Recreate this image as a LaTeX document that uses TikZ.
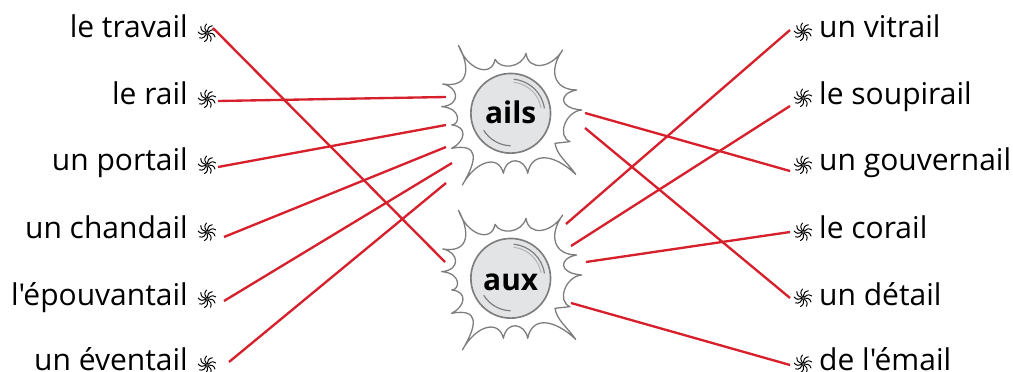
\documentclass[tikz,border=0pt]{standalone}
\usepackage{fontspec}
\newfontfamily\motfont{Open Sans}
\definecolor{lien}{RGB}{214,32,44}
\definecolor{contour}{RGB}{125,125,125}
\definecolor{boule}{RGB}{227,228,230}

\tikzset{
	mot/.style={font=\motfont\fontsize{25.6}{30}\selectfont, inner sep=0pt, text=black},
	motg/.style={mot, anchor=base east},
	motd/.style={mot, anchor=base west},
	puce/.style={circle, inner sep=0pt, minimum size=15},
	spirale/.pic={
		\foreach \a in {0,40,...,320}
			\draw[black, line width=0.85pt, line cap=round, rotate=\a] (1,0) .. controls (4,-0.5) and (7,0.5) .. (8,4);
	},
	boulenode/.style={circle, draw=contour, line width=1.4pt, fill=boule, minimum size=68pt, inner sep=0pt},
	titre/.style={font=\motfont\fontsize{25.5}{30}\selectfont\bfseries, inner sep=0pt},
	fil/.style={lien, line width=2pt},
	soleil/.pic={
		\draw[contour, line width=1.1pt, line join=round, scale=1/3, shift={(-272,-250)}]
			(115,45) .. controls (140,120) and (215,145) .. (225,88)
			.. controls (240,120) and (305,115) .. (318,70)
			.. controls (325,125) and (395,115) .. (428,60)
			.. controls (385,120) and (400,180) .. (470,180)
			.. controls (415,190) and (415,235) .. (485,240)
			.. controls (435,245) and (410,320) .. (450,335)
			-- (405,340)
			.. controls (410,375) and (440,395) .. (467,433)
			.. controls (400,370) and (335,365) .. (323,430)
			.. controls (315,385) and (260,375) .. (250,430)
			.. controls (235,370) and (165,395) .. (127,465)
			.. controls (175,385) and (175,340) .. (95,355)
			.. controls (135,335) and (145,290) .. (95,285)
			.. controls (120,285) and (125,235) .. (65,230)
			.. controls (125,225) and (115,170) .. (68,162)
			.. controls (150,175) and (150,110) .. (115,45);
	},
	reflets/.pic={
		\draw[contour, line width=1pt] (3,-34) arc[start angle=-85, end angle=-8, radius=34];
		\draw[contour!60, line width=0.8pt] (3,-31) arc[start angle=-84, end angle=-10, radius=31];
		\draw[contour, line width=1pt] (-27,17) arc[start angle=148, end angle=92, radius=33];
	},
}
\newcommand{\puceat}[3]{\node[puce] (#1) at (#2,#3) {}; \pic at (#1) {spirale};}

\begin{document}
\begin{tikzpicture}[x=0.03cm, y=-0.03cm]
	\useasboundingbox (0,0) rectangle (1013,372);

	% soleils
	\pic at (510.7,113.3) {soleil};
	\pic at (510.7,278.3) {soleil};
	\node[boulenode] (ails) at (510.7,113.3) {};
	\node[boulenode] (aux) at (510.7,278.3) {};
	\pic at (510.7,113.3) {reflets};
	\pic at (510.7,278.3) {reflets};
	\node[titre, anchor=base] (tails) at (510.7,124) {ails};
	\node[titre, anchor=base] (taux) at (510.7,290) {aux};

	% colonne gauche
	\node[motg] (travail) at (188,38) {le travail};
	\node[motg] (rail) at (188,105) {le rail};
	\node[motg] (portail) at (188,171) {un portail};
	\node[motg] (chandail) at (188,238) {un chandail};
	\node[motg] (epouvantail) at (188,305) {l'épouvantail};
	\node[motg] (eventail) at (188,370) {un éventail};

	\puceat{p1}{207}{33}
	\puceat{p2}{207}{99}
	\puceat{p3}{207}{165}
	\puceat{p4}{207}{232}
	\puceat{p5}{207}{299}
	\puceat{p6}{207}{365}

	% colonne droite
	\node[motd] (vitrail) at (819,38) {un vitrail};
	\node[motd] (soupirail) at (819,105) {le soupirail};
	\node[motd] (gouvernail) at (819,171) {un gouvernail};
	\node[motd] (corail) at (819,238) {le corail};
	\node[motd] (detail) at (819,305) {un détail};
	\node[motd] (email) at (819,370) {de l'émail};

	\puceat{q1}{803}{32}
	\puceat{q2}{803}{98}
	\puceat{q3}{803}{165}
	\puceat{q4}{803}{232}
	\puceat{q5}{803}{298}
	\puceat{q6}{803}{364}

	% liens gauche
	\draw[fil] ([shift={(6,-5)}]p1.center) -- ([shift={(-65.7,-16.3)}]aux.center);
	\draw[fil] ([shift={(11,2)}]p2.center) -- ([shift={(-64.7,-16.3)}]ails.center);
	\draw[fil] ([shift={(11,2)}]p3.center) -- ([shift={(-64.7,11.7)}]ails.center);
	\draw[fil] ([shift={(17,5)}]p4.center) -- ([shift={(-64.7,33.7)}]ails.center);
	\draw[fil] ([shift={(17,2)}]p5.center) -- ([shift={(-58.7,49.7)}]ails.center);
	\draw[fil] ([shift={(22,-3)}]p6.center) -- ([shift={(-64.7,69.7)}]ails.center);

	% liens droite
	\draw[fil] ([shift={(-13,-2)}]q1.center) -- ([shift={(55.3,-54.3)}]aux.center);
	\draw[fil] ([shift={(-13,8)}]q2.center) -- ([shift={(60.3,-32.3)}]aux.center);
	\draw[fil] ([shift={(-13,6)}]q3.center) -- ([shift={(74.3,-0.3)}]ails.center);
	\draw[fil] ([shift={(-13,0)}]q4.center) -- ([shift={(75.3,-16.3)}]aux.center);
	\draw[fil] ([shift={(-13,0)}]q5.center) -- ([shift={(74.3,14.7)}]ails.center);
	\draw[fil] ([shift={(-13,1)}]q6.center) -- ([shift={(60.3,24.7)}]aux.center);
\end{tikzpicture}
\end{document}
